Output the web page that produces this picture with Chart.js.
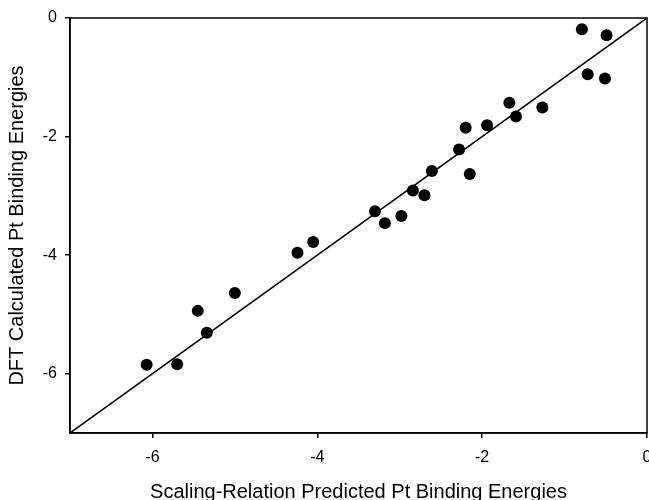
<!DOCTYPE html>
<html>
<head>
<meta charset="utf-8">
<script src="https://cdn.jsdelivr.net/npm/chart.js@4"></script>
<style>
  html, body { margin: 0; padding: 0; background: #fff; }
  canvas { display: block; }
</style>
</head>
<body>
<canvas id="parity" width="649" height="500"></canvas>
<script>
// scaling-relation predicted vs DFT calculated (eV)
const predicted = [-6.07, -5.70, -5.45, -5.34, -5.00, -4.24, -4.05, -3.30, -3.18, -2.98, -2.84, -2.70,
  -2.61, -2.28, -2.20, -2.15, -1.94, -1.67, -1.59, -1.27, -0.79, -0.72, -0.49, -0.51];
const calculated = [-5.85, -5.84, -4.94, -5.31, -4.64, -3.96, -3.78, -3.26, -3.46, -3.34, -2.91, -2.99,
  -2.58, -2.22, -1.85, -2.63, -1.81, -1.43, -1.66, -1.51, -0.19, -0.95, -0.29, -1.02];
const parityX = [-7, 0];
const parityY = [-7, 0];
const tickVals = [-6, -4, -2, 0];
const axisMin = -7, axisMax = 0;

const FONT = 'Liberation Sans, Arial, Helvetica, sans-serif';

function fixTicks(scale) {
  scale.ticks = tickVals.map(v => ({ value: v }));
}

// top + right edges of the box
const frame = {
  id: 'frame',
  afterDraw(chart) {
    const { ctx, chartArea: a } = chart;
    ctx.save();
    ctx.strokeStyle = '#000';
    ctx.lineWidth = 1.5;
    ctx.strokeRect(a.left, a.top, a.right - a.left, a.bottom - a.top);
    ctx.restore();
  }
};

function axis(pos, title) {
  const horiz = pos === 'bottom';
  return {
    type: 'linear',
    position: pos,
    min: axisMin,
    max: axisMax,
    afterBuildTicks: fixTicks,
    afterFit(scale) {
      if (horiz) { scale.height = 67; scale.paddingLeft = 0; scale.paddingRight = 0; }
      else { scale.width = 70; scale.paddingTop = 0; scale.paddingBottom = 0; }
    },
    grid: { display: true, drawOnChartArea: false, drawTicks: true, tickLength: 5, color: '#000', lineWidth: 1.5 },
    border: { display: true, color: '#000', width: 1.5 },
    ticks: {
      color: '#000',
      font: { family: FONT, size: 16 },
      padding: horiz ? 10 : 8,
      maxRotation: 0,
      callback: v => String(v)
    },
    title: {
      display: true,
      text: title,
      color: '#000',
      font: { family: FONT, size: 20, lineHeight: 1 },
      padding: horiz ? { top: 0, bottom: -2 } : { top: 7, bottom: 0 }
    }
  };
}

new Chart(document.getElementById('parity'), {
  type: 'scatter',
  data: {
    datasets: [
      {
        label: 'Pt',
        data: predicted.map((x, i) => ({ x, y: calculated[i] })),
        pointRadius: 6,
        pointHoverRadius: 6,
        backgroundColor: '#000',
        borderWidth: 0,
        order: 0
      },
      {
        type: 'line',
        label: 'parity',
        data: parityX.map((x, i) => ({ x, y: parityY[i] })),
        borderColor: '#000',
        borderWidth: 1.5,
        pointRadius: 0,
        fill: false,
        order: 1
      }
    ]
  },
  options: {
    responsive: false,
    animation: false,
    layout: { autoPadding: false, padding: { top: 18, right: 2, left: 0, bottom: 0 } },
    plugins: { legend: { display: false }, tooltip: { enabled: false } },
    scales: {
      x: axis('bottom', 'Scaling-Relation Predicted Pt Binding Energies'),
      y: axis('left', 'DFT Calculated Pt Binding Energies')
    }
  },
  plugins: [frame]
});
</script>
</body>
</html>
